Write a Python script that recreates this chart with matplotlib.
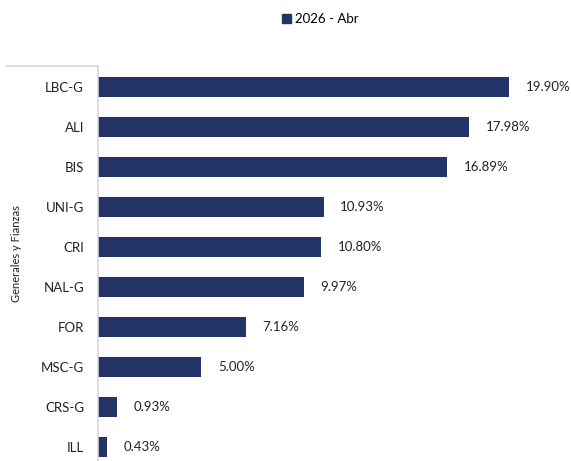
import matplotlib.pyplot as plt
from matplotlib.lines import Line2D
from matplotlib.patches import Patch

categorias = ['LBC-G', 'ALI', 'BIS', 'UNI-G', 'CRI', 'NAL-G', 'FOR', 'MSC-G', 'CRS-G', 'ILL']
valores = [19.90, 17.98, 16.89, 10.93, 10.80, 9.97, 7.16, 5.00, 0.93, 0.43]
serie = '2026 - Abr'
grupo = 'Generales y Fianzas'

plt.rcParams['font.family'] = ['Lato', 'DejaVu Sans']
azul = '#243466'
gris = '#d9d9dc'

W, H = 571, 461
fig = plt.figure(figsize=(W / 100, H / 100), dpi=100)
ax = fig.add_axes([98 / W, 0, (W - 98) / W, (461 - 66) / H])

pos = list(range(len(categorias)))
ax.barh(pos, valores, height=0.5, color=azul)
for p, v in zip(pos, valores):
    ax.text(v + 0.8, p, '%.2f%%' % v, va='center', ha='left', fontsize=9.5, color='#222222')

ax.set_ylim(9.35, -0.525)
ax.set_xlim(0, 22.9)
ax.set_yticks(pos)
ax.set_yticklabels(categorias, fontsize=9.5, color='#222222')
ax.tick_params(axis='y', length=0, pad=10)
ax.set_xticks([])
for s in ['top', 'right', 'bottom']:
    ax.spines[s].set_visible(False)
ax.spines['left'].set_color(gris)
ax.spines['left'].set_linewidth(1.2)

# corchete del grupo
fig.add_artist(Line2D([6 / W, 98 / W], [1 - 66 / H, 1 - 66 / H], color=gris, lw=1.2))
fig.text(17 / W, 1 - 254 / H, grupo, rotation=90, va='center', ha='center', fontsize=8, color='#222222')

fig.legend(handles=[Patch(color=azul, label=serie)], loc='center', bbox_to_anchor=(320 / W, 1 - 19 / H),
           frameon=False, fontsize=9.5, handlelength=0.7, handleheight=0.7, handletextpad=0.3)

fig.savefig('out.png', dpi=100)
